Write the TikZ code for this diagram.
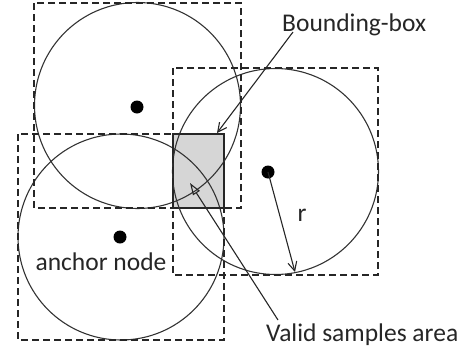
\documentclass[tikz,border=0pt]{standalone}
\usepackage{fontspec}
\setmainfont{Carlito}
\usetikzlibrary{arrows.meta}
\begin{document}
\begin{tikzpicture}[x=1pt,y=-1pt,
  circ/.style={draw=black!80, line width=1.1pt},
  dbox/.style={draw=black!85, line width=1.4pt, dash pattern=on 7pt off 4pt},
  dot/.style={circle, fill=black, inner sep=0pt, minimum size=13pt},
  lbl/.style={font=\fontsize{25.5}{30}\selectfont, text=black!85, inner sep=0pt},
  ptr/.style={draw=black!85, line width=1.1pt}]
\useasboundingbox (0,0) rectangle (469,354);
% centres
\coordinate (c1) at (137.5,105.5);
\coordinate (c2) at (121,237);
\coordinate (c3) at (275.5,171.5);
% valid area
\node[draw=black!85, line width=1.3pt, fill=black!16, minimum width=51pt, minimum height=74pt, inner sep=0pt] (area) at (198.5,171) {};
% circles
\draw[circ] (c1) circle[radius=103pt];
\draw[circ] (c2) circle[radius=103pt];
\draw[circ] (c3) circle[radius=103pt];
% bounding boxes
\draw[dbox] (34,3) rectangle (241,208);
\draw[dbox] (18,134) rectangle (224,340);
\draw[dbox] (173,68) rectangle (378,275);
% dots
\node[dot] (d1) at (137,107) {};
\node[dot] (d2) at (120,237) {};
\node[dot] (d3) at (268,172) {};
% labels
\node[lbl, anchor=west] (bb) at (282,25) {Bounding-box};
\node[lbl, anchor=west] (vs) at (266,335) {Valid samples area};
\node[lbl] (an) at (101,262) {anchor node};
\node[lbl] (r) at (302,215) {r};
\coordinate (bbtip) at (217,133);
\coordinate (vstip) at (190,183);
\coordinate (rtip) at (295,272);
\coordinate (bbs) at (293,32);
\coordinate (vss) at (278,320);
% pointers
\draw[ptr, -{Straight Barb[length=9pt,width=9pt]}] (bbs) -- (bbtip);
\draw[ptr, -{Triangle[open,length=12pt,width=8pt]}] (vss) -- (vstip);
\draw[ptr, -{Straight Barb[length=9pt,width=9pt]}] (d3.center) -- (rtip);
\end{tikzpicture}
\end{document}
